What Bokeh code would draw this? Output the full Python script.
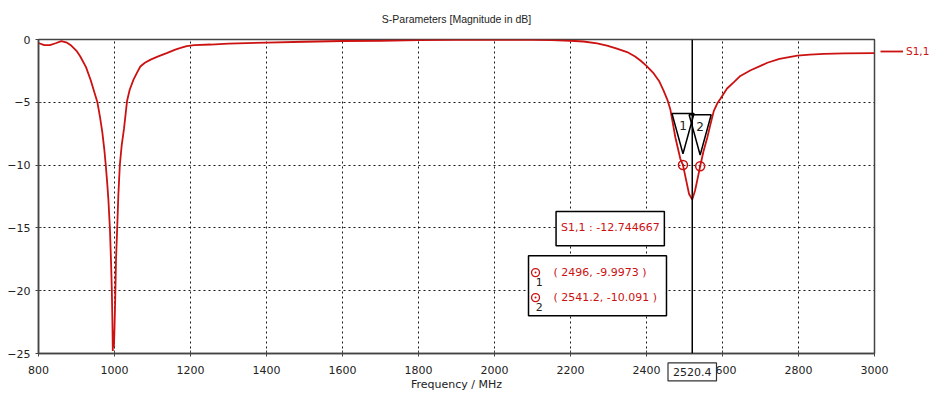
from bokeh.plotting import figure
from bokeh.models import (Span, BoxAnnotation, Label, Legend, LegendItem,
                          FixedTicker, Range1d)
from bokeh.core.properties import value
from bokeh.embed import file_html
from bokeh.resources import INLINE

# ---- data ----
freq = [800, 815, 830, 845, 860, 875, 885, 900, 910, 925, 937, 947, 955, 962,
        968, 973, 977, 981, 984, 988, 991, 993, 994.5, 995.5, 997, 998.5, 1000,
        1002, 1004, 1007, 1010, 1014, 1019, 1025, 1033, 1040, 1050, 1060, 1068,
        1080, 1095, 1115, 1139, 1160, 1174, 1190, 1210, 1253, 1300, 1400, 1500,
        1600, 1700, 1800, 1900, 2000, 2100, 2150, 2200, 2234, 2270, 2296, 2320,
        2349, 2370, 2384, 2400, 2419, 2433, 2445, 2455, 2463, 2476, 2489, 2496,
        2505, 2512, 2520.4, 2528, 2535, 2541.2, 2550, 2560, 2568, 2577, 2586,
        2595, 2612, 2630, 2647, 2674, 2700, 2718, 2750, 2797, 2830, 2867, 2920,
        3000]
s11 = [-0.28, -0.45, -0.45, -0.3, -0.13, -0.25, -0.45, -0.9, -1.35, -2.2, -3.2,
       -4.2, -5.0, -6.2, -7.4, -8.7, -10.0, -11.5, -12.8, -15.1, -17.8, -20.0,
       -22.5, -24.8, -23.2, -24.5, -23.0, -20.5, -17.5, -15.1, -12.5, -10.0,
       -8.4, -7.1, -4.9, -4.0, -3.2, -2.6, -2.15, -1.85, -1.6, -1.35, -1.06,
       -0.8, -0.67, -0.52, -0.45, -0.4, -0.33, -0.25, -0.18, -0.12, -0.1, -0.05,
       -0.03, -0.02, -0.03, -0.05, -0.1, -0.16, -0.3, -0.48, -0.7, -1.0, -1.35,
       -1.67, -2.1, -2.7, -3.3, -4.07, -4.8, -5.6, -7.8, -9.5, -9.9973, -11.3,
       -12.3, -12.744667, -12.0, -11.0, -10.091, -8.9, -7.8, -6.8, -5.7, -5.1,
       -4.7, -3.9, -3.4, -2.9, -2.45, -2.1, -1.85, -1.55, -1.28, -1.2, -1.14,
       -1.1, -1.08]

marker_ids = ["1", "2"]
marker_f = [2496, 2541.2]
marker_v = [-9.9973, -10.091]
cursor_f = 2520.4
cursor_v = -12.744667
series_name = "S1,1"
title_text = "S-Parameters [Magnitude in dB]"
x_label = "Frequency / MHz"

x_ticks = [800, 1000, 1200, 1400, 1600, 1800, 2000, 2200, 2400, 2600, 2800, 3000]
y_ticks = [0, -5, -10, -15, -20, -25]

RED = "#cc1111"
FONT = "DejaVu Sans"
DARK = "#222222"

p = figure(frame_width=836, frame_height=314, output_backend="svg",
           toolbar_location=None,
           x_range=Range1d(800, 3000), y_range=Range1d(-25, 0),
           min_border_left=38, min_border_right=61, min_border_top=39,
           min_border_bottom=38)
p.title.visible = False

p.background_fill_color = "white"
p.outline_line_color = "#444444"
p.outline_line_width = 1.5

for ax in (p.xaxis[0], p.yaxis[0]):
    ax.major_label_text_font = FONT
    ax.major_label_text_font_size = "11px"
    ax.major_label_text_color = DARK
    ax.axis_line_color = "#444444"
    ax.axis_line_width = 1.5
    ax.major_tick_line_color = "#444444"
    ax.major_tick_in = 3
    ax.major_tick_out = 3
    ax.minor_tick_line_color = None

p.xaxis.ticker = FixedTicker(ticks=x_ticks)
p.yaxis.ticker = FixedTicker(ticks=y_ticks)
p.xaxis.major_label_standoff = 9
p.yaxis.major_label_standoff = 5

p.grid.grid_line_color = "black"
p.grid.grid_line_dash = "2 3"
p.grid.grid_line_width = 1
p.grid.grid_line_alpha = 0.9

line = p.line(freq, s11, line_color=RED, line_width=1.8)

# cursor
p.add_layout(Span(location=cursor_f, dimension="height", line_color="black",
                  line_width=1.5))

# marker triangles
half_w = 29
tri_xs = [[f - half_w, f + half_w, f] for f in marker_f]
tri_ys = [[v + 4.1, v + 4.1, v + 0.9] for v in marker_v]
p.patches(tri_xs, tri_ys, fill_color="white", fill_alpha=0.0,
          line_color="black", line_width=1.5)
p.text(marker_f, [v + 3.15 for v in marker_v], text=marker_ids,
       text_font=value(FONT), text_font_size="12px", text_align="center",
       text_baseline="middle", text_color=DARK)
p.scatter(marker_f, marker_v, marker="circle_dot", size=9, line_color=RED,
          fill_color=None, line_width=1.5)

# value box for cursor
p.add_layout(BoxAnnotation(left=2162, right=2447, top=-13.69, bottom=-16.43,
                           fill_color="white", fill_alpha=1, line_alpha=1,
                           line_color="black", line_width=1.5,
                           level="annotation"))
p.add_layout(Label(x=2305, y=-15.0, text=f"{series_name} : {cursor_v:.6f}",
                   text_font=FONT, text_font_size="11px", text_color=RED,
                   text_align="center", text_baseline="middle",
                   level="overlay"))

# marker table box
p.add_layout(BoxAnnotation(left=2089.5, right=2452.6, top=-17.22, bottom=-22.0,
                           fill_color="white", fill_alpha=1, line_alpha=1,
                           line_color="black", line_width=1.5,
                           level="annotation"))
row_y = [-18.56, -20.55]
for mid, f, v, ry in zip(marker_ids, marker_f, marker_v, row_y):
    p.add_layout(Label(x=2155, y=ry, text=f"( {f:g}, {v:g} )",
                       text_font=FONT, text_font_size="11px", text_color=RED,
                       text_baseline="middle", level="overlay"))
    p.add_layout(Label(x=2118, y=ry - 0.75, text=mid, text_font=FONT,
                       text_font_size="11px", text_color=DARK,
                       text_align="center", text_baseline="middle",
                       level="overlay"))
icon = p.scatter([2108, 2108], row_y, marker="circle_dot", size=8,
                 line_color=RED, fill_color=None, line_width=1.3)
icon.level = "overlay"

# texts outside the frame (placed in side panels so they are not clipped)
p.add_layout(Label(x=1900, y=1.67, text=title_text, text_font="Liberation Sans",
                   text_font_size="10.5px", text_color=DARK,
                   text_align="center", text_baseline="middle"), "above")
p.add_layout(Label(x=cursor_f, y=-26.47, text=f"{cursor_f:g}", text_font=FONT,
                   text_font_size="11px", text_color=DARK,
                   text_align="center", text_baseline="middle",
                   background_fill_color="white", border_line_color="#333333",
                   border_line_width=1.2, padding=5, level="overlay"), "above")
p.add_layout(Label(x=1900, y=-27.5, text=x_label, text_font=FONT,
                   text_font_size="11px", text_color=DARK,
                   text_align="center", text_baseline="middle"), "below")

legend = Legend(items=[LegendItem(label=series_name, renderers=[line])],
                location="top_left", margin=6, padding=0, border_line_alpha=0,
                background_fill_alpha=0, glyph_width=23, glyph_height=12,
                label_standoff=3, label_text_font=FONT,
                label_text_font_size="10.5px", label_text_color=RED)
p.add_layout(legend, "right")

open("out.html", "w").write(file_html(p, INLINE))
